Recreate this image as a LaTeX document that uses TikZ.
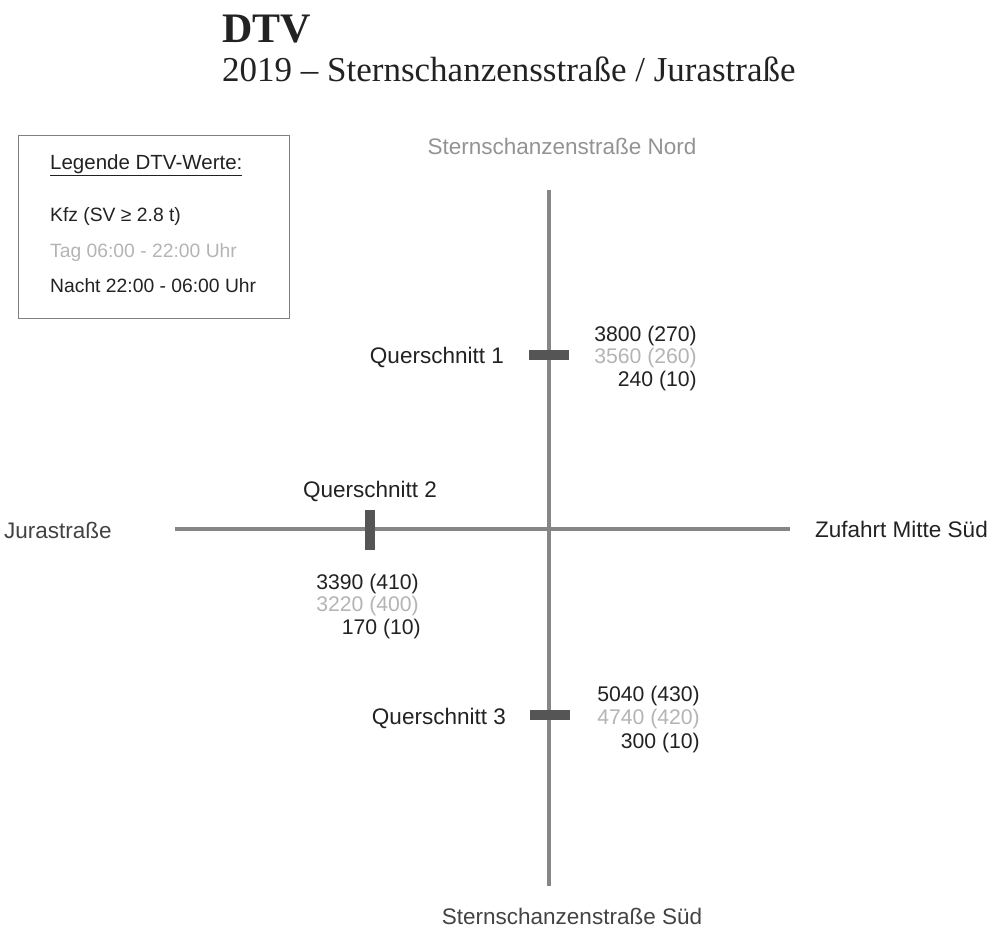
\documentclass[tikz,border=0pt]{standalone}
\usepackage{fontspec}
\setmainfont{Liberation Sans}
\newfontfamily\titlefont{Liberation Serif}
\definecolor{txt}{HTML}{222222}
\definecolor{lite}{HTML}{B4B4B4}
\definecolor{road}{HTML}{868686}
\definecolor{mark}{HTML}{555555}
\begin{document}
\begin{tikzpicture}[x=1pt,y=-1pt,
  lbl/.style={font=\fontsize{22.5}{26}\selectfont, inner sep=0pt, text=txt},
  num/.style={font=\fontsize{21.2}{25}\selectfont, inner sep=0pt, text=txt, anchor=base east},
  leg/.style={font=\fontsize{19.3}{22}\selectfont, inner sep=0pt, text=txt, anchor=base west},
  roadline/.style={draw=road, line width=3.5pt},
  hbar/.style={fill=mark, minimum width=40pt, minimum height=10pt, inner sep=0pt},
  vbar/.style={fill=mark, minimum width=10pt, minimum height=40pt, inner sep=0pt}]
\useasboundingbox (0,0) rectangle (1004,931);
% title
\node[inner sep=0pt, anchor=base west, text=txt, font=\titlefont\bfseries\fontsize{42}{46}\selectfont] (title) at (222,43) {DTV};
\node[inner sep=0pt, anchor=base west, text=txt, font=\titlefont\fontsize{35}{40}\selectfont] (subtitle) at (222,82) {2019 – Sternschanzensstraße / Jurastraße};
% legend
\node[draw=gray, line width=1pt, minimum width=271pt, minimum height=183pt, anchor=north west, inner sep=0pt] (legbox) at (18,135) {};
\node[leg, font=\fontsize{20.5}{24}\selectfont] (legtitle) at (50,170) {\underline{Legende DTV-Werte:}};
\node[leg] (legkfz) at (50,221) {Kfz (SV ≥ 2.8 t)};
\node[leg, text=lite] (legtag) at (50,257) {Tag 06:00 - 22:00 Uhr};
\node[leg] (legnacht) at (50,292) {Nacht 22:00 - 06:00 Uhr};
% roads
\coordinate (nN) at (549,190);
\coordinate (nS) at (549,886);
\coordinate (nW) at (175,529);
\coordinate (nE) at (790,529);
\draw[roadline] (nN) -- (nS);
\draw[roadline] (nW) -- (nE);
% markers
\node[hbar] (q1) at (549,355) {};
\node[vbar] (q2) at (370,530) {};
\node[hbar] (q3) at (550,715) {};
% road labels
\node[lbl, text=gray!85, anchor=base] (lN) at (562,154) {Sternschanzenstraße Nord};
\node[lbl, text=txt!85, anchor=base] (lS) at (572,924) {Sternschanzenstraße Süd};
\node[lbl, text=txt!85, anchor=base west] (lW) at (4,538) {Jurastraße};
\node[lbl, anchor=base west] (lE) at (815,537) {Zufahrt Mitte Süd};
% section labels
\node[lbl, anchor=base east] (t1) at (504,363) {Querschnitt 1};
\node[lbl, anchor=base] (t2) at (370,497) {Querschnitt 2};
\node[lbl, anchor=base east] (t3) at (506,724) {Querschnitt 3};
% values
\node[num] (v1a) at (697,341) {3800 (270)};
\node[num, text=lite] (v1b) at (697,363) {3560 (260)};
\node[num] (v1c) at (697,386) {240 (10)};
\node[num] (v2a) at (419,589) {3390 (410)};
\node[num, text=lite] (v2b) at (419,611) {3220 (400)};
\node[num] (v2c) at (421,634) {170 (10)};
\node[num] (v3a) at (700,701) {5040 (430)};
\node[num, text=lite] (v3b) at (700,724) {4740 (420)};
\node[num] (v3c) at (700,748) {300 (10)};
\end{tikzpicture}
\end{document}
